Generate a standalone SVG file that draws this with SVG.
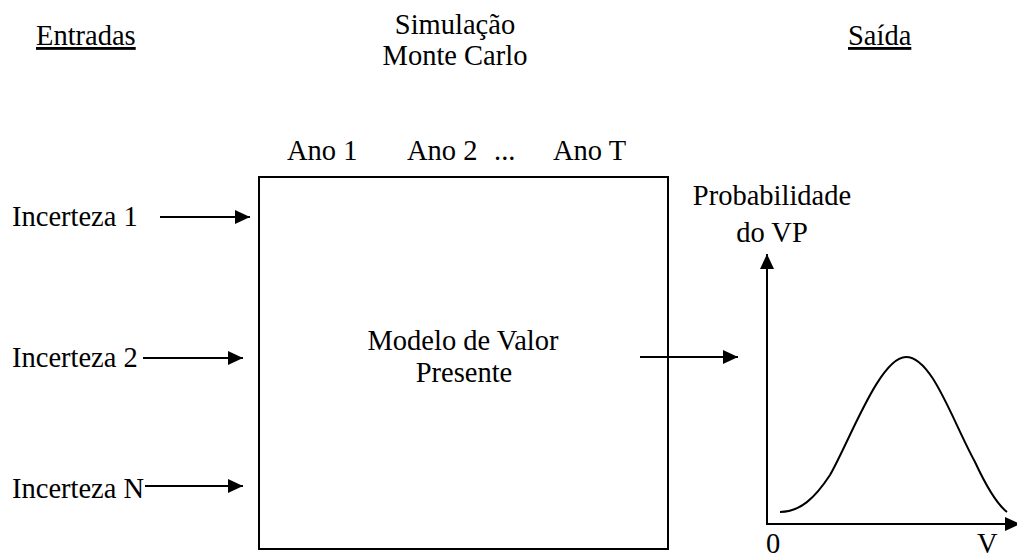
<svg xmlns="http://www.w3.org/2000/svg" width="1017" height="559" viewBox="0 0 1017 559">
<style>
text{font-family:"Liberation Serif","Times New Roman","DejaVu Serif",serif;font-size:28.5px;fill:#000}
.mid{text-anchor:middle}
.ul{text-decoration:underline}
.ln{stroke:#000;stroke-width:2;fill:none}
</style>
<defs>
<marker id="ah" markerUnits="userSpaceOnUse" markerWidth="16" markerHeight="16" viewBox="0 0 16 16" refX="15" refY="8" orient="auto">
<path d="M0,1 L15,8 L0,15 Z" fill="#000"/>
</marker>
</defs>
<rect width="1017" height="559" fill="#fff"/>
<g id="headers">
<text x="36" y="45" class="ul">Entradas</text>
<text x="455" y="34" class="mid">Simulação</text>
<text x="455" y="65" class="mid">Monte Carlo</text>
<text x="848" y="45" class="ul">Saída</text>
</g>
<g id="inputs">
<text x="12" y="226">Incerteza 1</text>
<text x="12" y="367">Incerteza 2</text>
<text x="12" y="498">Incerteza N</text>
</g>
<g id="model">
<rect x="259" y="177" width="409" height="372" class="ln"/>
<text x="287" y="160">Ano 1</text>
<text x="407" y="160">Ano 2</text>
<text x="494" y="160">...</text>
<text x="553" y="160">Ano T</text>
<text x="463" y="350" class="mid">Modelo de Valor</text>
<text x="464" y="382" class="mid">Presente</text>
</g>
<g id="output-chart">
<text x="772" y="205" class="mid">Probabilidade</text>
<text x="772" y="242" class="mid">do VP</text>
<line x1="767" y1="525" x2="767" y2="254" class="ln" marker-end="url(#ah)"/>
<line x1="766" y1="524" x2="1020" y2="524" class="ln" marker-end="url(#ah)"/>
<path d="M780,512 C800,512 815,498 830,475 C850,440 880,357 906,357 C932,357 952,420 975,462 C988,490 998,505 1007,512" class="ln"/>
<text x="766" y="553">0</text>
<text x="977" y="553">V</text>
</g>
<g id="connectors">
<line x1="160" y1="217" x2="250" y2="217" class="ln" marker-end="url(#ah)"/>
<line x1="143" y1="358" x2="243" y2="358" class="ln" marker-end="url(#ah)"/>
<line x1="145" y1="486" x2="243" y2="486" class="ln" marker-end="url(#ah)"/>
<line x1="640" y1="357" x2="738" y2="357" class="ln" marker-end="url(#ah)"/>
</g>
</svg>
